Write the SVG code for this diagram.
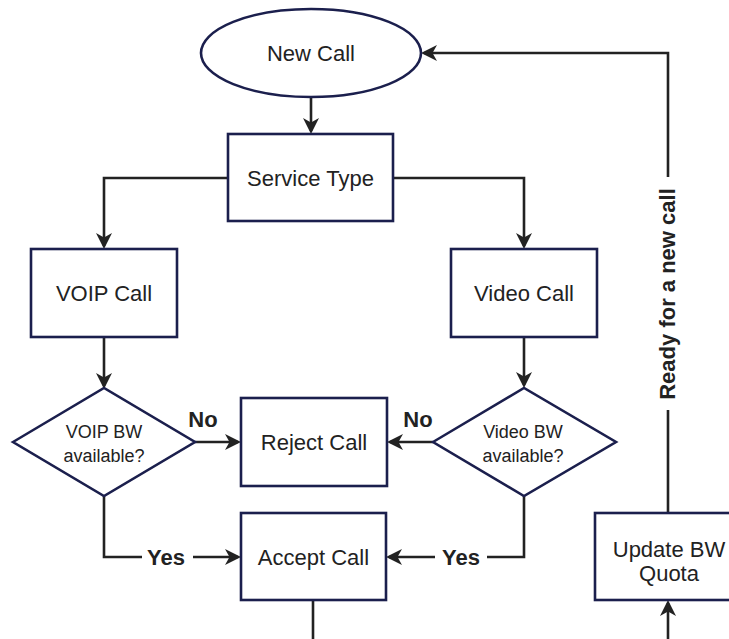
<svg xmlns="http://www.w3.org/2000/svg" width="729" height="639" viewBox="0 0 729 639">
<style>
.node{fill:#fff;stroke:#1b1f4d;stroke-width:2.6}
.lbl{font-family:"Liberation Sans",Arial,sans-serif;font-size:22px;fill:#222;text-anchor:middle}
.small{font-size:18px}
.bold{font-weight:bold}
.con{fill:none;stroke:#222;stroke-width:2.6}
</style>
<defs>
<marker id="arr" markerUnits="userSpaceOnUse" viewBox="0 0 16 16" markerWidth="16" markerHeight="16" refX="13" refY="8" orient="auto">
<path d="M0,0 L16,8 L0,16 L4.5,8 Z" fill="#222"/>
</marker>
</defs>
<rect width="729" height="639" fill="#fff"/>
<g id="connectors">
<path class="con" d="M311,97 V131" marker-end="url(#arr)"/>
<path class="con" d="M228,178 H104 V246" marker-end="url(#arr)"/>
<path class="con" d="M393,178 H524 V246" marker-end="url(#arr)"/>
<path class="con" d="M104,337 V386" marker-end="url(#arr)"/>
<path class="con" d="M524,337 V385" marker-end="url(#arr)"/>
<path class="con" d="M195,442 H238" marker-end="url(#arr)"/>
<path class="con" d="M433,442 H390" marker-end="url(#arr)"/>
<path class="con" d="M104,496 V557 H142 M193,557 H238" marker-end="url(#arr)"/>
<path class="con" d="M524,496 V557 H487 M435,557 H389" marker-end="url(#arr)"/>
<path class="con" d="M313,600 V639"/>
<path class="con" d="M668,639 V603" marker-end="url(#arr)"/>
<path class="con" d="M668,513 V410 M668,177 V53 H424" marker-end="url(#arr)"/>
<text class="lbl bold" x="203" y="427">No</text>
<text class="lbl bold" x="418" y="427">No</text>
<text class="lbl bold" x="166" y="565">Yes</text>
<text class="lbl bold" x="461" y="565">Yes</text>
<text class="lbl bold" transform="translate(675,294) rotate(-90)">Ready for a new call</text>
</g>
<g id="new-call">
<ellipse class="node" cx="311" cy="53" rx="110" ry="44"/>
<text class="lbl" x="311" y="61">New Call</text>
</g>
<g id="service-type">
<rect class="node" x="228" y="134" width="165" height="87"/>
<text class="lbl" x="310.5" y="186">Service Type</text>
</g>
<g id="voip-call">
<rect class="node" x="31" y="249" width="146" height="88"/>
<text class="lbl" x="104" y="301">VOIP Call</text>
</g>
<g id="video-call">
<rect class="node" x="451" y="249" width="146" height="88"/>
<text class="lbl" x="524" y="301">Video Call</text>
</g>
<g id="voip-bw">
<path class="node" d="M13,442 L104,388 L195,442 L104,496 Z"/>
<text class="lbl small" x="104" y="438">VOIP BW</text>
<text class="lbl small" x="104" y="462">available?</text>
</g>
<g id="video-bw">
<path class="node" d="M433,442 L524,388 L616,442 L524,496 Z"/>
<text class="lbl small" x="523" y="438">Video BW</text>
<text class="lbl small" x="523" y="462">available?</text>
</g>
<g id="reject-call">
<rect class="node" x="241" y="398" width="146" height="88"/>
<text class="lbl" x="314" y="450">Reject Call</text>
</g>
<g id="accept-call">
<rect class="node" x="241" y="513" width="145" height="87"/>
<text class="lbl" x="313.5" y="565">Accept Call</text>
</g>
<g id="update-bw">
<rect class="node" x="595" y="513" width="147" height="87"/>
<text class="lbl" x="669" y="557">Update BW</text>
<text class="lbl" x="669" y="581">Quota</text>
</g>
</svg>
